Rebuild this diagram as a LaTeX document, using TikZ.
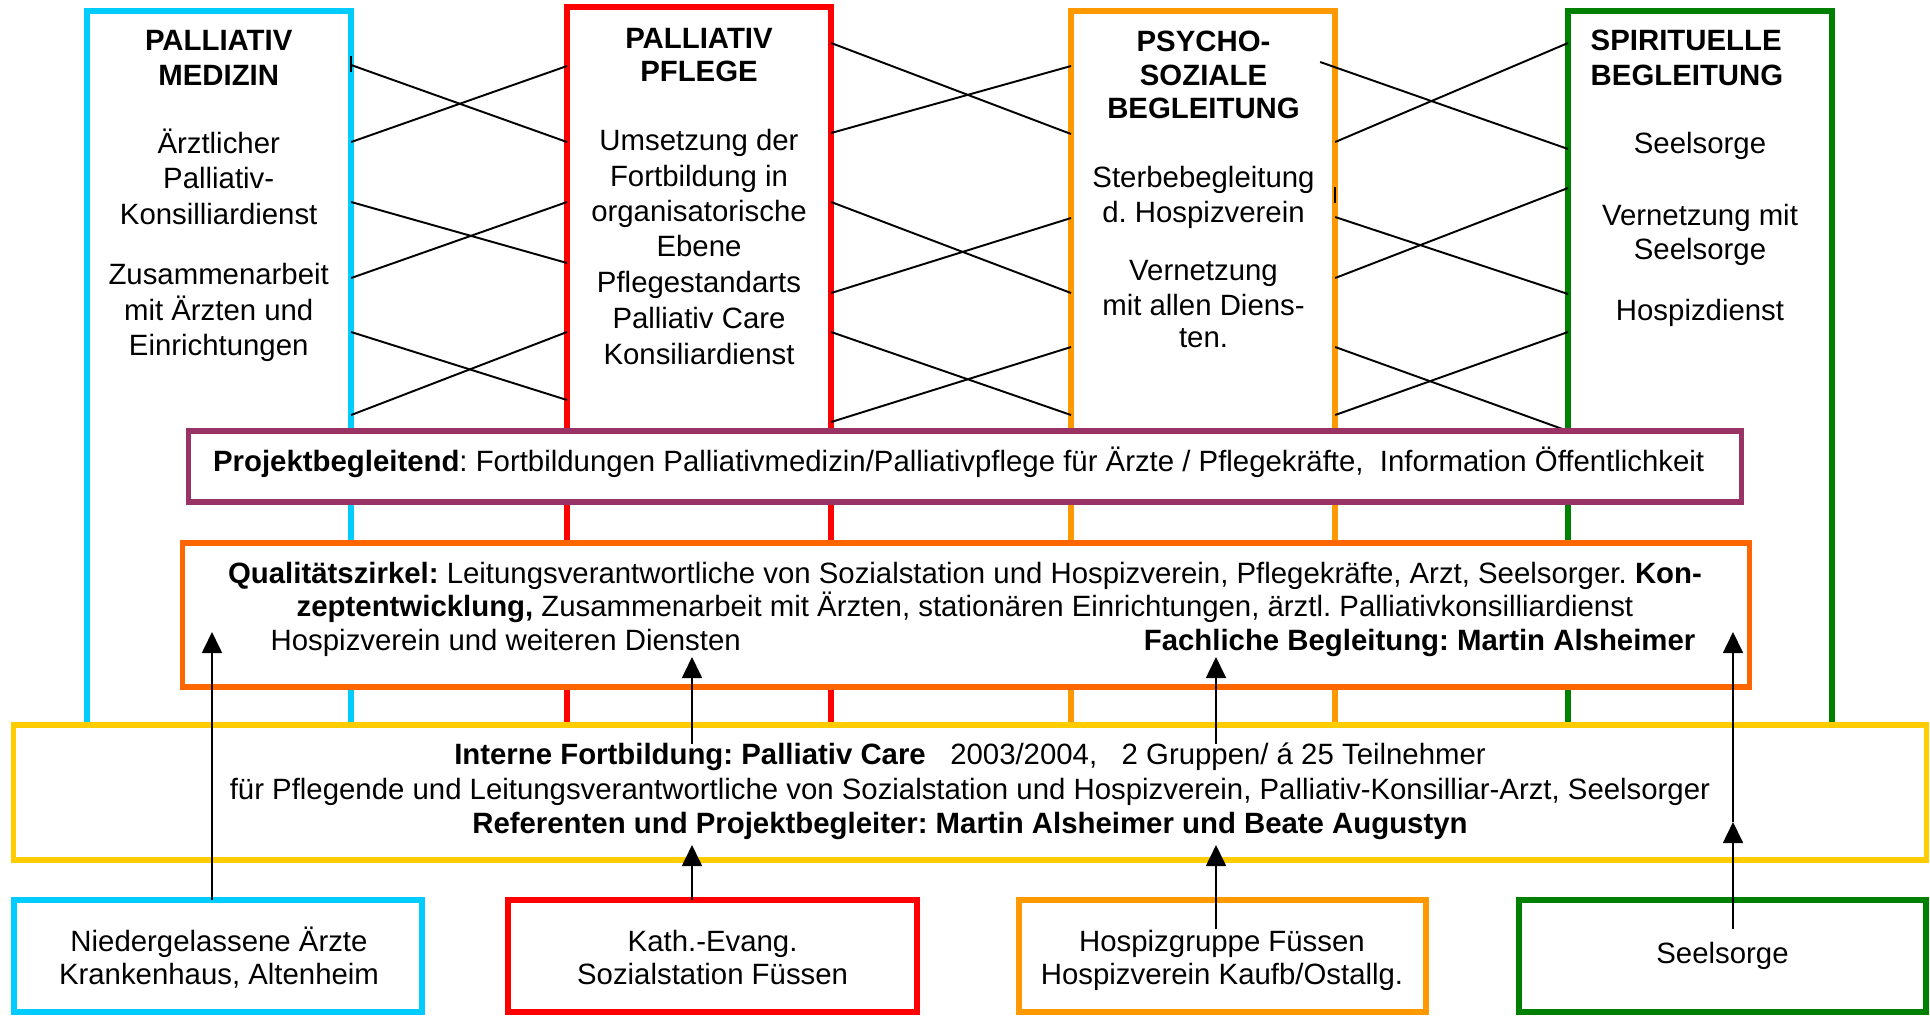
\documentclass[tikz,border=0pt]{standalone}
\usepackage{fontspec}
\setmainfont{Liberation Sans}
\usetikzlibrary{arrows.meta,calc}
\definecolor{cblue}{HTML}{00CCFF}
\definecolor{cred}{HTML}{FF0000}
\definecolor{corange}{HTML}{FF9900}
\definecolor{cgreen}{HTML}{008000}
\definecolor{cpurple}{HTML}{993366}
\definecolor{cqz}{HTML}{FF6600}
\definecolor{cyellow}{HTML}{FFCC00}
\frenchspacing
\begin{document}
\begin{tikzpicture}[x=0.01cm,y=-0.01cm,
  font=\fontsize{8.35pt}{10pt}\selectfont,
  colbox/.style={draw, line width=0.06cm, inner sep=0pt, outer sep=0pt, anchor=north west, minimum width=2.64cm},
  bigbox/.style={draw, fill=white, line width=0.055cm, inner sep=0pt, outer sep=0pt},
  botbox/.style={draw, fill=white, line width=0.06cm, inner sep=0pt, outer sep=0pt, minimum height=1.12cm},
  txt/.style={inner sep=0pt, anchor=base},
  txtl/.style={inner sep=0pt, anchor=base west},
  txtr/.style={inner sep=0pt, anchor=base east},
  cross/.style={line width=0.55pt, black},
  arr/.style={line width=0.5pt, black, -{Triangle[length=0.21cm,width=0.2cm]}}
]
\useasboundingbox (0,0) rectangle (1930,1017);

% columns
\node[colbox, draw=cblue,   minimum height=7.24cm] (c1) at (87,11) {};
\node[colbox, draw=cred,    minimum height=7.28cm] (c2) at (567,7) {};
\node[colbox, draw=corange, minimum height=7.24cm] (c3) at (1071,11) {};
\node[colbox, draw=cgreen,  minimum height=7.24cm] (c4) at (1568,11) {};

% cross connectors blue -> red
\draw[cross] (c1.east |- 0,65)  -- (c2.west |- 0,142);
\draw[cross] (c1.east |- 0,142) -- (c2.west |- 0,66);
\draw[cross] (c1.east |- 0,202) -- (c2.west |- 0,263);
\draw[cross] (c1.east |- 0,278) -- (c2.west |- 0,202);
\draw[cross] (c1.east |- 0,332) -- (c2.west |- 0,400);
\draw[cross] (c1.east |- 0,415) -- (c2.west |- 0,332);
% red -> orange
\draw[cross] (c2.east |- 0,43)  -- (c3.west |- 0,134);
\draw[cross] (c2.east |- 0,133) -- (c3.west |- 0,66);
\draw[cross] (c2.east |- 0,202) -- (c3.west |- 0,293);
\draw[cross] (c2.east |- 0,293) -- (c3.west |- 0,218);
\draw[cross] (c2.east |- 0,332) -- (c3.west |- 0,415);
\draw[cross] (c2.east |- 0,422) -- (c3.west |- 0,347);
% orange -> green
\draw[cross] ($(c3.east |- 0,62)+(-15,0)$) -- (c4.west |- 0,149);
\draw[cross] (c3.east |- 0,142) -- (c4.west |- 0,43);
\draw[cross] (c3.east |- 0,217) -- (c4.west |- 0,294);
\draw[cross] (c3.east |- 0,278) -- (c4.west |- 0,188);
\draw[cross] (c3.east |- 0,347) -- (c4.west |- 0,431);
\draw[cross] (c3.east |- 0,415) -- (c4.west |- 0,332);
% small ticks
\draw[line width=0.7pt] (c1.east |- 0,56) -- (c1.east |- 0,72);
\draw[line width=0.7pt] (c3.east |- 0,187) -- (c3.east |- 0,203);

% wide boxes
\node[bigbox, draw=cpurple, minimum width=15.52cm, minimum height=0.71cm] (pb) at (965,466.5) {};
\node[bigbox, draw=cqz, minimum width=15.66cm, minimum height=1.44cm] (qz) at (966,615) {};
\node[bigbox, draw=cyellow, minimum width=19.12cm, minimum height=1.35cm] (fb) at (970,792.5) {};

% bottom boxes
\node[botbox, draw=cblue,   minimum width=4.08cm] (b1) at (218,956) {};
\node[botbox, draw=cred,    minimum width=4.09cm] (b2) at (712.5,956) {};
\node[botbox, draw=corange, minimum width=4.07cm] (b3) at (1222.5,956) {};
\node[botbox, draw=cgreen,  minimum width=4.07cm] (b4) at (1722.5,956) {};

% column texts: blue
\node[txt] (t1a) at (218.7,50.7) {\bfseries PALLIATIV};
\node[txt] (t1b) at (218.7,85) {\bfseries MEDIZIN};
\node[txt] (t1c) at (218.7,153) {Ärztlicher};
\node[txt] (t1d) at (218.7,188.5) {Palliativ-};
\node[txt] (t1e) at (218.7,224) {Konsilliardienst};
\node[txt] (t1f) at (218.7,284) {Zusammenarbeit};
\node[txt] (t1g) at (218.7,320) {mit Ärzten und};
\node[txt] (t1h) at (218.7,355) {Einrichtungen};
% red
\node[txt] (t2a) at (699,48.3) {\bfseries PALLIATIV};
\node[txt] (t2b) at (699,81.7) {\bfseries PFLEGE};
\node[txt] (t2c) at (699,150.7) {Umsetzung der};
\node[txt] (t2d) at (699,186) {Fortbildung in};
\node[txt] (t2e) at (699,221) {organisatorische};
\node[txt] (t2f) at (699,256.7) {Ebene};
\node[txt] (t2g) at (699,292.3) {Pflegestandarts};
\node[txt] (t2h) at (699,328.3) {Palliativ Care};
\node[txt] (t2i) at (699,364) {Konsiliardienst};
% orange
\node[txt] (t3a) at (1203.5,51) {\bfseries PSYCHO-};
\node[txt] (t3b) at (1203.5,85) {\bfseries SOZIALE};
\node[txt] (t3c) at (1203.5,118) {\bfseries BEGLEITUNG};
\node[txt] (t3d) at (1203.5,187) {Sterbebegleitung};
\node[txt] (t3e) at (1203.5,222.5) {d. Hospizverein};
\node[txt] (t3f) at (1203.5,280) {Vernetzung};
\node[txt] (t3g) at (1203.5,315) {mit allen Diens-};
\node[txt] (t3h) at (1203.5,347) {ten.};
% green
\node[txtl] (t4a) at (1590,50.7) {\bfseries SPIRITUELLE};
\node[txtl] (t4b) at (1590,85) {\bfseries BEGLEITUNG};
\node[txt] (t4c) at (1700,153) {Seelsorge};
\node[txt] (t4d) at (1700,225) {Vernetzung mit};
\node[txt] (t4e) at (1700,259.5) {Seelsorge};
\node[txt] (t4f) at (1700,320.5) {Hospizdienst};

% wide box texts
\node[txtl] (pt) at (212.4,471) {\textbf{Projektbegleitend}: Fortbildungen Palliativmedizin/Palliativpflege für Ärzte / Pflegekräfte, \ Information Öffentlichkeit};
\node[txt] (q1) at (965,583) {\textbf{Qualitätszirkel:} Leitungsverantwortliche von Sozialstation und Hospizverein, Pflegekräfte, Arzt, Seelsorger. \textbf{Kon-}};
\node[txt] (q2) at (965,616.5) {\textbf{zeptentwicklung,} Zusammenarbeit mit Ärzten, stationären Einrichtungen, ärztl. Palliativkonsilliardienst};
\node[txtl] (q3) at (270,650) {Hospizverein und weiteren Diensten};
\node[txtr] (q4) at (1696,650) {\bfseries Fachliche Begleitung: Martin Alsheimer};
\node[txt] (y1) at (970,764) {\textbf{Interne Fortbildung: Palliativ Care}\ \ \ 2003/2004,\ \ \ 2 Gruppen/ á 25 Teilnehmer};
\node[txt] (y2) at (970,799.5) {für Pflegende und Leitungsverantwortliche von Sozialstation und Hospizverein, Palliativ-Konsilliar-Arzt, Seelsorger};
\node[txt] (y3) at (970,833) {\bfseries Referenten und Projektbegleiter: Martin Alsheimer und Beate Augustyn};

% bottom box texts
\node[txt] (n1a) at (219,951) {Niedergelassene Ärzte};
\node[txt] (n1b) at (219,984.4) {Krankenhaus, Altenheim};
\node[txt] (n2a) at (712.6,951) {Kath.-Evang.};
\node[txt] (n2b) at (712.6,984.4) {Sozialstation Füssen};
\node[txt] (n3a) at (1222,951) {Hospizgruppe Füssen};
\node[txt] (n3b) at (1222,984.4) {Hospizverein Kaufb/Ostallg.};
\node[txt] (n4a) at (1722.5,963) {Seelsorge};

% arrows
\coordinate (e1) at (212,632);
\coordinate (e2a) at (692,845);
\coordinate (s2b) at (692,744);
\coordinate (e2b) at (692,657);
\coordinate (s3a) at (1216,929);
\coordinate (e3a) at (1216,845);
\coordinate (s3b) at (1216,744);
\coordinate (e3b) at (1216,657);
\coordinate (s4) at (1733,929);
\coordinate (m4) at (1733,822);
\coordinate (e4) at (1733,632);
\draw[arr] (b1.north -| e1) -- (e1);
\draw[arr] (b2.north -| e2a) -- (e2a);
\draw[arr] (s2b) -- (e2b);
\draw[arr] (s3a) -- (e3a);
\draw[arr] (s3b) -- (e3b);
\draw[arr] (s4) -- (m4);
\draw[arr] (m4) -- (e4);
\end{tikzpicture}
\end{document}
